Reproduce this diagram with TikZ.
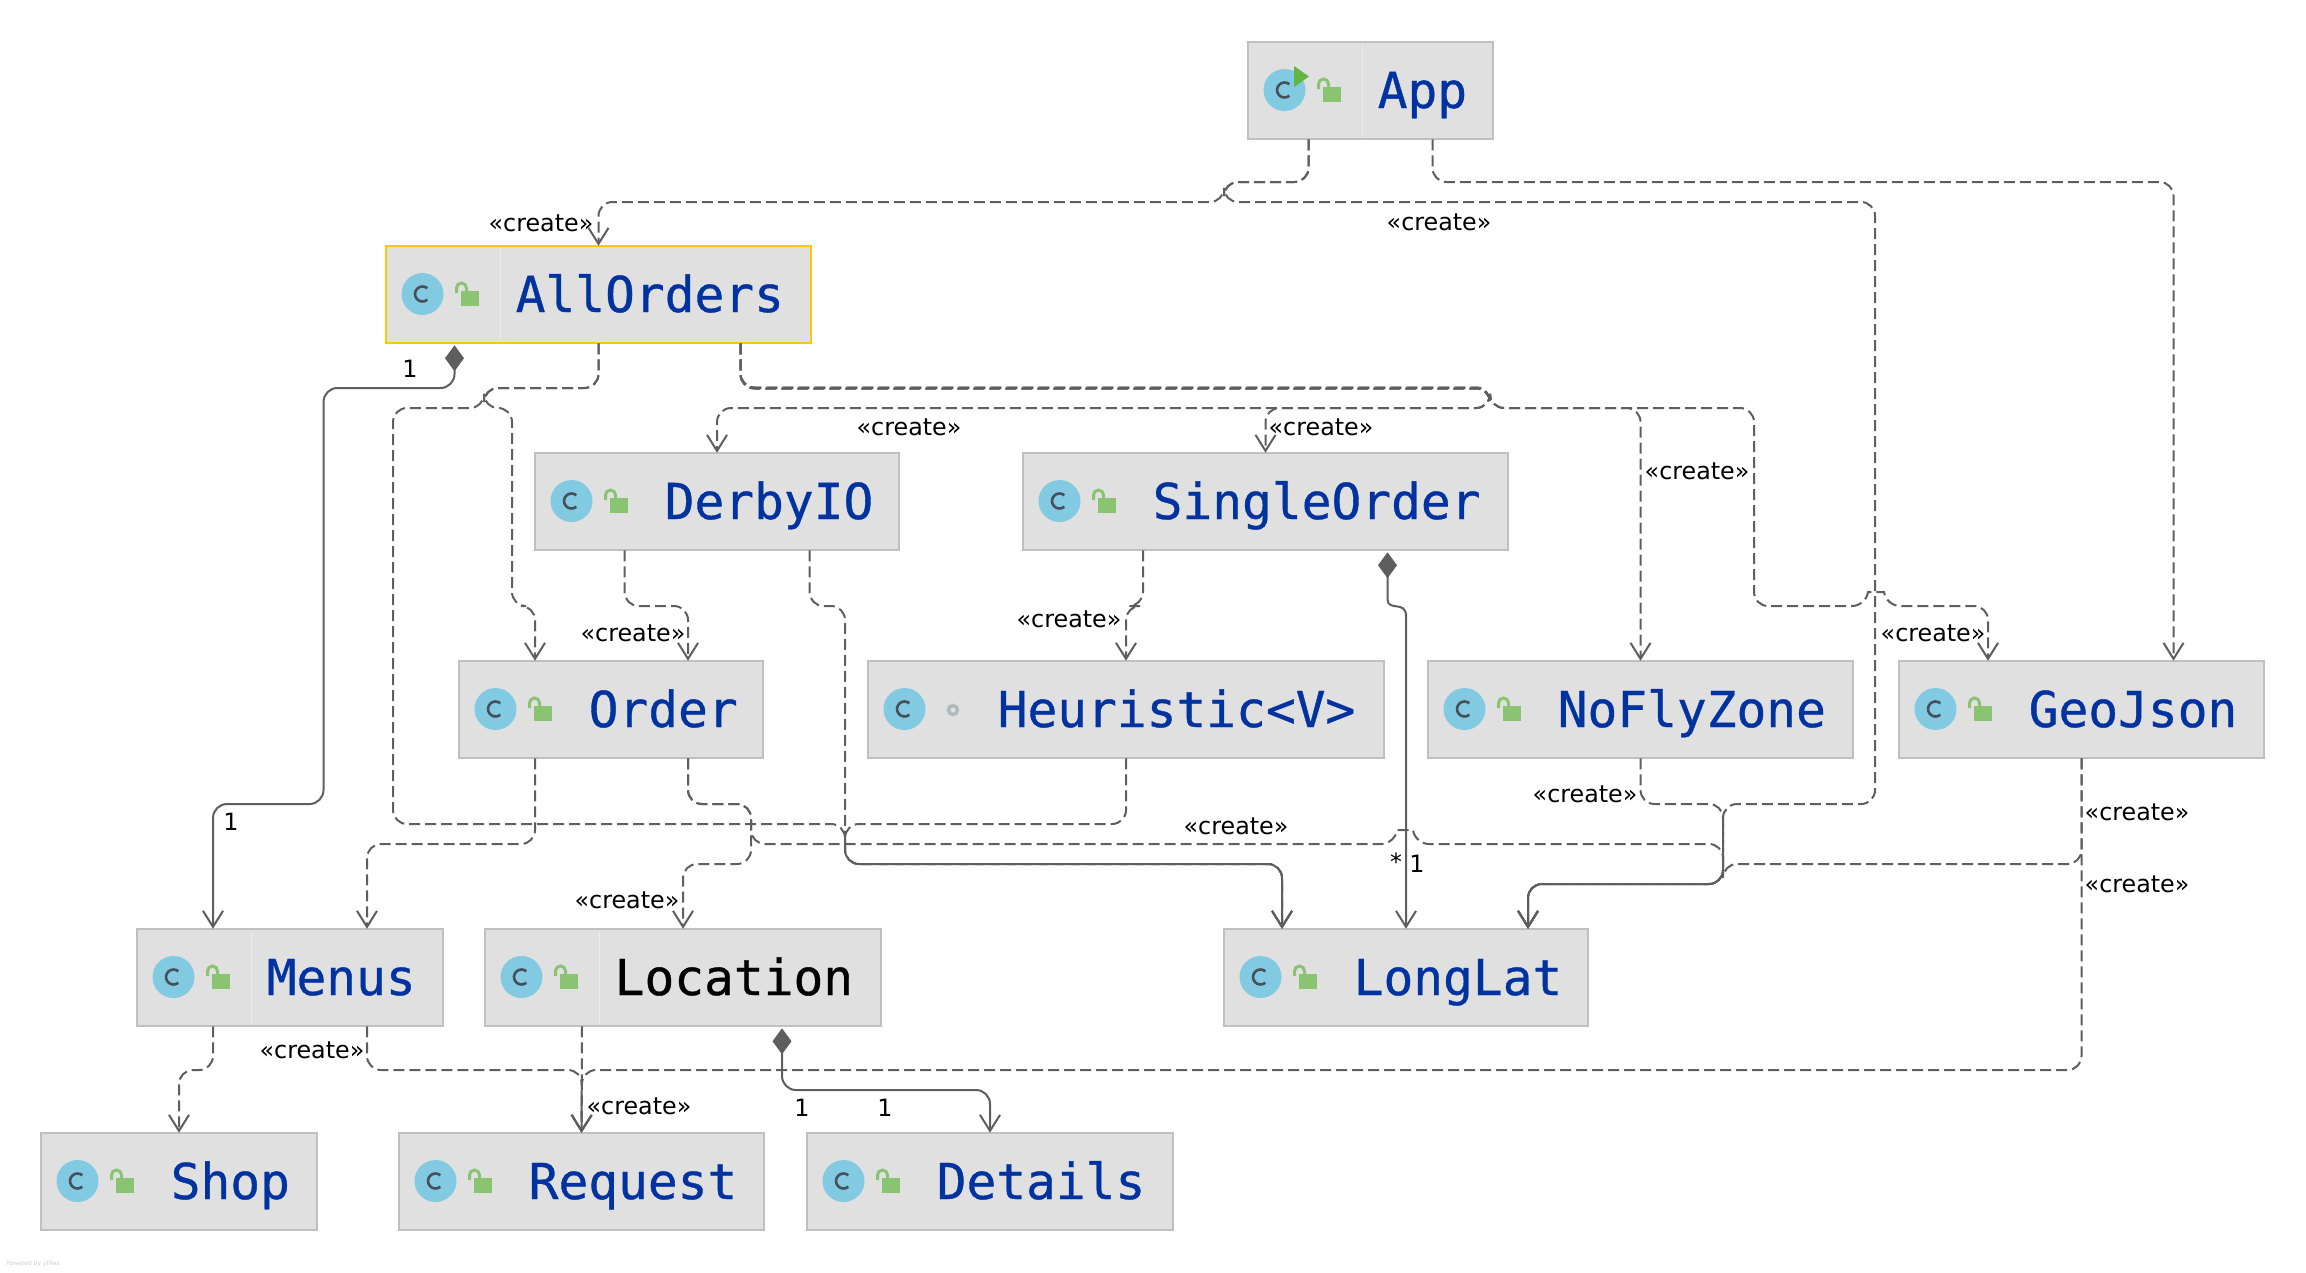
\documentclass[tikz,border=0pt]{standalone}
\usepackage{fontspec}
\usetikzlibrary{arrows.meta}
\setmainfont{DejaVu Sans}
\newfontfamily\classfont[FakeBold=0.7]{DejaVu Sans Mono}
\definecolor{boxfill}{HTML}{E0E0E0}
\definecolor{boxline}{HTML}{C0C0C0}
\definecolor{boxgold}{HTML}{FFC800}
\definecolor{edgegray}{HTML}{5E5E5E}
\definecolor{nameblue}{HTML}{0033A0}
\definecolor{iconblue}{HTML}{82C9E2}
\definecolor{icongreen}{HTML}{8AC473}
\definecolor{runrgreen}{HTML}{62B543}
\definecolor{icondark}{HTML}{46505A}
\definecolor{ringgray}{HTML}{AEB9C0}
\tikzset{
	classbox/.style={draw=boxline, fill=boxfill, line width=2pt, anchor=north west, minimum height=97.5pt, outer sep=0pt, inner sep=0pt},
	classname/.style={anchor=base west, inner sep=0pt, font=\classfont\fontsize{49.5}{50}\selectfont, text=nameblue},
	dep/.style={draw=edgegray, line width=2pt, rounded corners=14pt, dash pattern=on 11pt off 5pt, -{Straight Barb[length=16pt,width=20pt]}},
	comp/.style={draw=edgegray, line width=2pt, rounded corners=14pt, shorten <=2pt, {Diamond[length=26pt,width=19pt]}-{Straight Barb[length=16pt,width=20pt]}},
	lbl/.style={inner sep=0pt, font=\fontsize{23.8}{24}\selectfont, text=black},
}
%name, left, top, right, text colour, text
\newcommand{\classbox}[6]{
	\pgfmathsetmacro\bw{#4-#2-1.5}
	\node[classbox, minimum width=\bw pt] (#1) at (#2+0.75,#3+0.75) {};
	\node[classname, text=#5] (#1Name) at (#2+130.5,#3+67) {#6};
	\fill[iconblue] (#2+37.5,#3+49) circle (21);
	\draw[icondark, line width=2.6pt] (#2+37.5,#3+49) ++(50:7.5) arc (50:310:7.5);
}
%left, top
\newcommand{\lockicon}[2]{
	\fill[icongreen] (#1+76,#2+46) rectangle (#1+94,#2+61);
	\draw[icongreen, line width=3pt] (#1+71.5,#2+48) -- (#1+71.5,#2+43) arc (180:360:5) -- (#1+81.5,#2+46);
}
\newcommand{\dividerline}[2]{
	\draw[white!35!boxfill, line width=1pt] (#1+115,#2+3) -- (#1+115,#2+96);
}
\begin{document}
\begin{tikzpicture}[x=1pt,y=-1pt]
	\useasboundingbox (0,0) rectangle (2306,1272);
	
	%Class boxes
	\classbox{App}{1247}{41}{1494}{nameblue}{App}
	\lockicon{1247}{41}
	\dividerline{1247}{41}
	\fill[runrgreen] (1247+47,41+25) -- (1247+62,41+35.5) -- (1247+47,41+46) -- cycle;
	
	\classbox{AllOrders}{385}{245}{812}{nameblue}{AllOrders}
	\lockicon{385}{245}
	\dividerline{385}{245}
	\draw[boxgold, line width=1.8pt] (AllOrders.north west) rectangle (AllOrders.south east);
	
	\classbox{DerbyIO}{534}{452}{900}{nameblue}{DerbyIO}
	\lockicon{534}{452}
	
	\classbox{SingleOrder}{1022}{452}{1509}{nameblue}{SingleOrder}
	\lockicon{1022}{452}
	
	\classbox{Order}{458}{660}{764}{nameblue}{Order}
	\lockicon{458}{660}
	
	\classbox{Heuristic}{867}{660}{1385}{nameblue}{Heuristic<V>}
	\draw[ringgray, line width=3.5pt] (867+86,660+50) circle (4.5);
	
	\classbox{NoFlyZone}{1427}{660}{1854}{nameblue}{NoFlyZone}
	\lockicon{1427}{660}
	
	\classbox{GeoJson}{1898}{660}{2265}{nameblue}{GeoJson}
	\lockicon{1898}{660}
	
	\classbox{Menus}{136}{928}{444}{nameblue}{Menus}
	\lockicon{136}{928}
	\dividerline{136}{928}
	
	\classbox{Location}{484}{928}{882}{black}{Location}
	\lockicon{484}{928}
	\dividerline{484}{928}
	
	\classbox{LongLat}{1223}{928}{1589}{nameblue}{LongLat}
	\lockicon{1223}{928}
	
	\classbox{Shop}{40}{1132}{318}{nameblue}{Shop}
	\lockicon{40}{1132}
	
	\classbox{Request}{398}{1132}{765}{nameblue}{Request}
	\lockicon{398}{1132}
	
	\classbox{Details}{806}{1132}{1174}{nameblue}{Details}
	\lockicon{806}{1132}
	
	%Edges
	\draw[dep] ([xshift=-62pt]App.south) -- (1308.5,182) -- (1224,182) -- (1224,202) -- (598.5,202) -- (AllOrders.north);
	\draw[dep] ([xshift=-62pt]App.south) -- (1308.5,182) -- (1224,182) -- (1224,202) -- (1875,202) -- (1875,804) -- (1723,804) -- (1723,884) -- (1528,884) -- ([xshift=122pt]LongLat.north);
	\draw[dep] ([xshift=62pt]App.south) -- (1432.5,182) -- (2173.5,182) -- ([xshift=92pt]GeoJson.north);
	
	\draw[comp] ([xshift=-144pt]AllOrders.south) -- (454.5,388) -- (323.5,388) -- (323.5,804) -- (213,804) -- ([xshift=-77pt]Menus.north);
	\draw[dep] (AllOrders.south) -- (598.5,388) -- (484,388) -- (484,408) -- (393,408) -- (393,824) -- (845,824) -- (845,864) -- (1282,864) -- ([xshift=-124pt]LongLat.north);
	\draw[dep] (AllOrders.south) -- (598.5,388) -- (484,388) -- (484,408) -- (512,408) -- (512,606) -- (535,606) -- ([xshift=-76pt]Order.north);
	\draw[dep] ([xshift=142pt]AllOrders.south) -- (740.5,387.5) -- (1490,387.5) -- (1490,408) -- (717,408) -- (DerbyIO.north);
	\draw[dep] ([xshift=142pt]AllOrders.south) -- (740.5,387.5) -- (1490,387.5) -- (1490,408) -- (1265.5,408) -- (SingleOrder.north);
	\draw[dep] ([xshift=142pt]AllOrders.south) -- (740.5,388.5) -- (1490,388.5) -- (1490,408) -- (1640.5,408) -- (NoFlyZone.north);
	\draw[dep] ([xshift=142pt]AllOrders.south) -- (740.5,388.5) -- (1490,388.5) -- (1490,408) -- (1754,408) -- (1754,606) -- (1866,606) .. controls (1868,592) and (1884,592) .. (1886,606) -- (1988,606) -- ([xshift=-93.5pt]GeoJson.north);
	
	\draw[dep] ([xshift=-92.5pt]DerbyIO.south) -- (624.5,606) -- (688,606) -- ([xshift=77pt]Order.north);
	\draw[dep] ([xshift=92.5pt]DerbyIO.south) -- (809.5,606) -- (845,606) -- (845,864) -- (1282,864) -- ([xshift=-124pt]LongLat.north);
	\draw[dep] ([xshift=-122.5pt]SingleOrder.south) -- (1143,606) -- (1126,606) -- (Heuristic.north);
	\draw[comp] ([xshift=122pt]SingleOrder.south) -- (1387.5,585) .. controls (1387.5,612) and (1406,600) .. (1406,630) -- (LongLat.north);
	
	\draw[dep] ([xshift=-76pt]Order.south) -- (535,844) -- (367,844) -- ([xshift=77pt]Menus.north);
	\draw[dep] ([xshift=77pt]Order.south) -- (688,804) -- (751,804) -- (751,864) -- (683,864) -- (Location.north);
	\draw[dep] ([xshift=77pt]Order.south) -- (688,804) -- (751,804) -- (751,844) -- (1395,844) .. controls (1397,830) and (1413,830) .. (1415,844) -- (1723,844) -- (1723,884) -- (1528,884) -- ([xshift=122pt]LongLat.north);
	\draw[dep] (Heuristic.south) -- (1126,824) -- (845,824) -- (845,864) -- (1282,864) -- ([xshift=-124pt]LongLat.north);
	\draw[dep] (NoFlyZone.south) -- (1640.5,804) -- (1723,804) -- (1723,884) -- (1528,884) -- ([xshift=122pt]LongLat.north);
	\draw[dep] (GeoJson.south) -- (2081.5,864) -- (1723,864) -- (1723,884) -- (1528,884) -- ([xshift=122pt]LongLat.north);
	\draw[dep] (GeoJson.south) -- (2081.5,1070) -- (582,1070) -- (Request.north);
	
	\draw[dep] ([xshift=77pt]Menus.south) -- (367,1070) -- (582,1070) -- (Request.north);
	\draw[dep] ([xshift=-101pt]Location.south) -- (Request.north);
	\draw[dep] ([xshift=-77pt]Menus.south) -- (213,1070) -- (179,1070) -- (Shop.north);
	\draw[comp] ([xshift=99pt]Location.south) -- (782,1090) -- (990,1090) -- (Details.north);
	
	%Edge labels
	\node[lbl] (L1) at (541,223) {«create»};
	\node[lbl] (L2) at (1439,222) {«create»};
	\node[lbl] (L3) at (909,427) {«create»};
	\node[lbl] (L4) at (1321,427) {«create»};
	\node[lbl] (L5) at (1697,471) {«create»};
	\node[lbl] (L6) at (1933,633) {«create»};
	\node[lbl] (L7) at (633,633) {«create»};
	\node[lbl] (L8) at (1069,619) {«create»};
	\node[lbl] (L9) at (627,900) {«create»};
	\node[lbl] (L10) at (1236,826) {«create»};
	\node[lbl] (L11) at (1585,794) {«create»};
	\node[lbl] (L12) at (2137,812) {«create»};
	\node[lbl] (L13) at (2137,884) {«create»};
	\node[lbl] (L14) at (312,1050) {«create»};
	\node[lbl] (L15) at (639,1106) {«create»};
	
	\node[lbl] (N1) at (410,369) {1};
	\node[lbl] (N2) at (231,822) {1};
	\node[lbl] (N3) at (1396,862) {*};
	\node[lbl] (N4) at (1417,864) {1};
	\node[lbl] (N5) at (802,1108) {1};
	\node[lbl] (N6) at (885,1108) {1};
	
	\node[lbl, font=\fontsize{6}{7}\selectfont, text=black!20] (Powered) at (33,1264) {Powered by yFiles};
	
\end{tikzpicture}
\end{document}
